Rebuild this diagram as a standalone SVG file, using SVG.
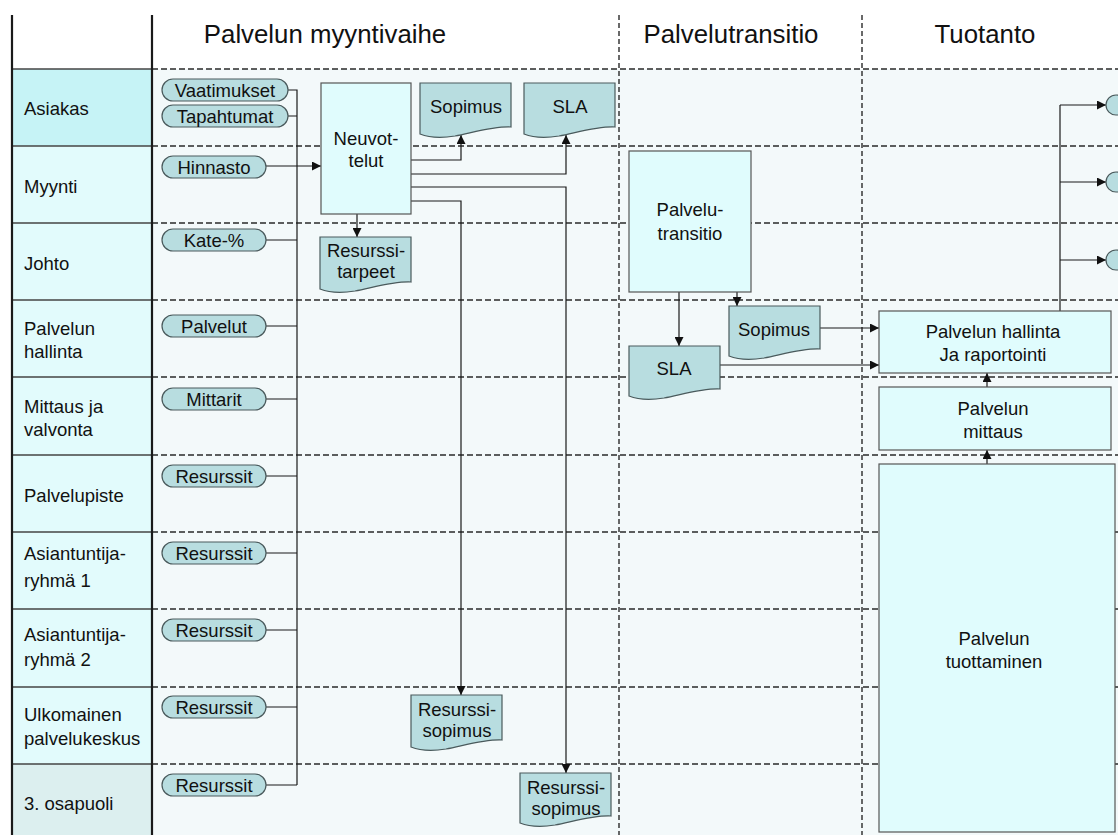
<svg xmlns="http://www.w3.org/2000/svg" width="1118" height="835" viewBox="0 0 1118 835">
  <defs>
    <style>
      text { font-family: "Liberation Sans", Arial, sans-serif; fill: #111; }
      .hdr { font-size: 25.8px; text-anchor: middle; }
      .lane { font-size: 18.5px; }
      .t { font-size: 18.5px; text-anchor: middle; }
      .pill { fill: #b8dde0; stroke: #4a5a5c; stroke-width: 1.2; }
      .doc { fill: #b8dde0; stroke: #4a5a5c; stroke-width: 1.2; }
      .box { fill: #e0fcfd; stroke: #555; stroke-width: 1.2; }
      .sep { stroke: #444; stroke-width: 1.4; }
      .dash { stroke: #2a2a2a; stroke-width: 1.6; stroke-dasharray: 6 3; fill: none; }
      .vdash { stroke: #1a1a1a; stroke-width: 1.3; stroke-dasharray: 5 3; fill: none; }
      .wall { stroke: #1a1a1a; stroke-width: 2.2; }
      .conn { stroke: #1a1a1a; stroke-width: 1.2; fill: none; }
      .arrow { stroke: #1a1a1a; stroke-width: 1.2; fill: none; marker-end: url(#ah); }
    </style>
    <marker id="ah" viewBox="0 0 10 10" refX="10" refY="5" markerWidth="9" markerHeight="9" markerUnits="userSpaceOnUse" orient="auto">
      <path d="M0,0 L10,5 L0,10 Z" fill="#111"/>
    </marker>
  </defs>

  <!-- backgrounds -->
  <rect x="0" y="0" width="1118" height="835" fill="#ffffff"/>
  <rect x="152" y="69" width="966" height="766" fill="#f3f9fa"/>
  <g id="lane-column">
    <rect x="12" y="69" width="140" height="77" fill="#c6f3f6"/>
    <rect x="12" y="146" width="140" height="618" fill="#e2fbfc"/>
    <rect x="12" y="764" width="140" height="71" fill="#dcefef"/>
    <line class="sep" x1="12" y1="69" x2="152" y2="69"/>
    <line class="sep" x1="12" y1="146" x2="152" y2="146"/>
    <line class="sep" x1="12" y1="223" x2="152" y2="223"/>
    <line class="sep" x1="12" y1="300" x2="152" y2="300"/>
    <line class="sep" x1="12" y1="377" x2="152" y2="377"/>
    <line class="sep" x1="12" y1="455" x2="152" y2="455"/>
    <line class="sep" x1="12" y1="532" x2="152" y2="532"/>
    <line class="sep" x1="12" y1="609" x2="152" y2="609"/>
    <line class="sep" x1="12" y1="687" x2="152" y2="687"/>
    <line class="sep" x1="12" y1="764" x2="152" y2="764"/>
  </g>

  <!-- swimlane grid -->
  <g id="grid">
    <path class="dash" d="M152,69 H1118 M152,146 H1118 M152,223 H1118 M152,300 H1118 M152,377 H1118 M152,455 H1118 M152,532 H1118 M152,609 H1118 M152,687 H1118 M152,764 H1118"/>
    <path class="vdash" d="M619,15 V835 M862,15 V835"/>
    <line class="wall" x1="12" y1="15" x2="12" y2="835"/>
    <line class="wall" x1="152" y1="15" x2="152" y2="835"/>
  </g>

  <!-- phase headers -->
  <g id="headers">
    <text class="hdr" x="325" y="43">Palvelun myyntivaihe</text>
    <text class="hdr" x="731" y="43">Palvelutransitio</text>
    <text class="hdr" x="985" y="43">Tuotanto</text>
  </g>

  <!-- lane labels -->
  <g id="lane-labels">
    <text class="lane" x="24" y="115">Asiakas</text>
    <text class="lane" x="24" y="193">Myynti</text>
    <text class="lane" x="24" y="270">Johto</text>
    <text class="lane" x="24" y="335">Palvelun</text>
    <text class="lane" x="24" y="358">hallinta</text>
    <text class="lane" x="24" y="413">Mittaus ja</text>
    <text class="lane" x="24" y="436">valvonta</text>
    <text class="lane" x="24" y="502">Palvelupiste</text>
    <text class="lane" x="24" y="560">Asiantuntija-</text>
    <text class="lane" x="24" y="587">ryhmä 1</text>
    <text class="lane" x="24" y="641">Asiantuntija-</text>
    <text class="lane" x="24" y="666">ryhmä 2</text>
    <text class="lane" x="24" y="721">Ulkomainen</text>
    <text class="lane" x="24" y="745">palvelukeskus</text>
    <text class="lane" x="24" y="810">3. osapuoli</text>
  </g>

  <!-- connectors -->
  <g id="connectors">
    <!-- inputs collected into one bus -->
    <path class="conn" d="M288,90 H297 V785 M288,116 H297 M266,240 H297 M266,326 H297 M266,399 H297 M266,476 H297 M266,553 H297 M266,630 H297 M266,707 H297 M266,785 H297"/>
    <path class="arrow" d="M266,166 H321"/>
    <!-- negotiation outputs -->
    <path class="arrow" d="M411,160 H461 V135"/>
    <path class="arrow" d="M411,174 H566 V135"/>
    <path class="arrow" d="M411,187 H566 V773"/>
    <path class="arrow" d="M411,201 H461 V695"/>
    <path class="arrow" d="M357,214 V237"/>
    <!-- transition outputs -->
    <path class="arrow" d="M679,292 V346"/>
    <path class="arrow" d="M737,292 V306"/>
    <path class="arrow" d="M820,328 H879"/>
    <path class="arrow" d="M720,365 H879"/>
    <!-- production chain -->
    <path class="arrow" d="M987,464 V450"/>
    <path class="arrow" d="M987,387 V373"/>
    <!-- reporting outputs -->
    <path class="conn" d="M1060,311 V105"/>
    <path class="arrow" d="M1060,105 H1106"/>
    <path class="arrow" d="M1060,182 H1106"/>
    <path class="arrow" d="M1060,260 H1106"/>
  </g>

  <!-- input pills -->
  <g id="in-vaatimukset"><rect class="pill" x="162" y="79" width="126" height="22" rx="11"/><text class="t" x="225" y="96.5">Vaatimukset</text></g>
  <g id="in-tapahtumat"><rect class="pill" x="162" y="105" width="126" height="22" rx="11"/><text class="t" x="225" y="122.5">Tapahtumat</text></g>
  <g id="in-hinnasto"><rect class="pill" x="162" y="156" width="104" height="22" rx="11"/><text class="t" x="214" y="173.5">Hinnasto</text></g>
  <g id="in-kate"><rect class="pill" x="162" y="229" width="104" height="22" rx="11"/><text class="t" x="214" y="246.5">Kate-%</text></g>
  <g id="in-palvelut"><rect class="pill" x="162" y="315" width="104" height="22" rx="11"/><text class="t" x="214" y="332.5">Palvelut</text></g>
  <g id="in-mittarit"><rect class="pill" x="162" y="388" width="104" height="22" rx="11"/><text class="t" x="214" y="405.5">Mittarit</text></g>
  <g id="in-resurssit-1"><rect class="pill" x="162" y="465" width="104" height="22" rx="11"/><text class="t" x="214" y="482.5">Resurssit</text></g>
  <g id="in-resurssit-2"><rect class="pill" x="162" y="542" width="104" height="22" rx="11"/><text class="t" x="214" y="559.5">Resurssit</text></g>
  <g id="in-resurssit-3"><rect class="pill" x="162" y="619" width="104" height="22" rx="11"/><text class="t" x="214" y="636.5">Resurssit</text></g>
  <g id="in-resurssit-4"><rect class="pill" x="162" y="696" width="104" height="22" rx="11"/><text class="t" x="214" y="713.5">Resurssit</text></g>
  <g id="in-resurssit-5"><rect class="pill" x="162" y="774" width="104" height="22" rx="11"/><text class="t" x="214" y="791.5">Resurssit</text></g>

  <!-- sales phase -->
  <g id="neuvottelut">
    <rect class="box" x="321" y="83" width="90" height="131"/>
    <text class="t" x="366" y="145">Neuvot-</text>
    <text class="t" x="366" y="167">telut</text>
  </g>
  <g id="doc-sopimus-1">
    <path class="doc" d="M420,83 H511 V127 C495,126 475,132 455,136 C440,138.5 430,138 420,134 Z"/>
    <text class="t" x="466" y="113">Sopimus</text>
  </g>
  <g id="doc-sla-1">
    <path class="doc" d="M524,83 H615 V127 C599,126 579,132 559,136 C544,138.5 534,138 524,134 Z"/>
    <text class="t" x="570" y="113">SLA</text>
  </g>
  <g id="doc-resurssitarpeet">
    <path class="doc" d="M320,237 H411 V282 C395,281 375,287 355,291 C340,293.5 330,293 320,289 Z"/>
    <text class="t" x="366" y="257">Resurssi-</text>
    <text class="t" x="366" y="278">tarpeet</text>
  </g>
  <g id="doc-resurssisopimus-1">
    <path class="doc" d="M411,695 H502 V740 C486,739 466,745 446,749 C431,751.5 421,751 411,747 Z"/>
    <text class="t" x="457" y="716">Resurssi-</text>
    <text class="t" x="457" y="737">sopimus</text>
  </g>
  <g id="doc-resurssisopimus-2">
    <path class="doc" d="M520,773 H611 V816 C595,815 575,821 555,825 C540,827.5 530,827 520,823 Z"/>
    <text class="t" x="566" y="794">Resurssi-</text>
    <text class="t" x="566" y="815">sopimus</text>
  </g>

  <!-- transition phase -->
  <g id="palvelutransitio">
    <rect class="box" x="629" y="151" width="122" height="141"/>
    <text class="t" x="690" y="216">Palvelu-</text>
    <text class="t" x="690" y="240">transitio</text>
  </g>
  <g id="doc-sopimus-2">
    <path class="doc" d="M729,306 H820 V349 C804,348 784,354 764,358 C749,360.5 739,360 729,356 Z"/>
    <text class="t" x="774" y="336">Sopimus</text>
  </g>
  <g id="doc-sla-2">
    <path class="doc" d="M629,346 H720 V389 C704,388 684,394 664,398 C649,400.5 639,400 629,396 Z"/>
    <text class="t" x="674" y="375">SLA</text>
  </g>

  <!-- production phase -->
  <g id="palvelun-hallinta">
    <rect class="box" x="879" y="311" width="232" height="62"/>
    <text class="t" x="993" y="338">Palvelun hallinta</text>
    <text class="t" x="993" y="361">Ja raportointi</text>
  </g>
  <g id="palvelun-mittaus">
    <rect class="box" x="879" y="387" width="232" height="63"/>
    <text class="t" x="993" y="415">Palvelun</text>
    <text class="t" x="993" y="438">mittaus</text>
  </g>
  <g id="palvelun-tuottaminen">
    <rect class="box" x="879" y="464" width="236" height="368"/>
    <text class="t" x="994" y="645">Palvelun</text>
    <text class="t" x="994" y="668">tuottaminen</text>
  </g>
  <g id="out-1"><circle class="pill" cx="1116" cy="105" r="10"/></g>
  <g id="out-2"><circle class="pill" cx="1116" cy="182" r="10"/></g>
  <g id="out-3"><circle class="pill" cx="1116" cy="260" r="10"/></g>
</svg>
